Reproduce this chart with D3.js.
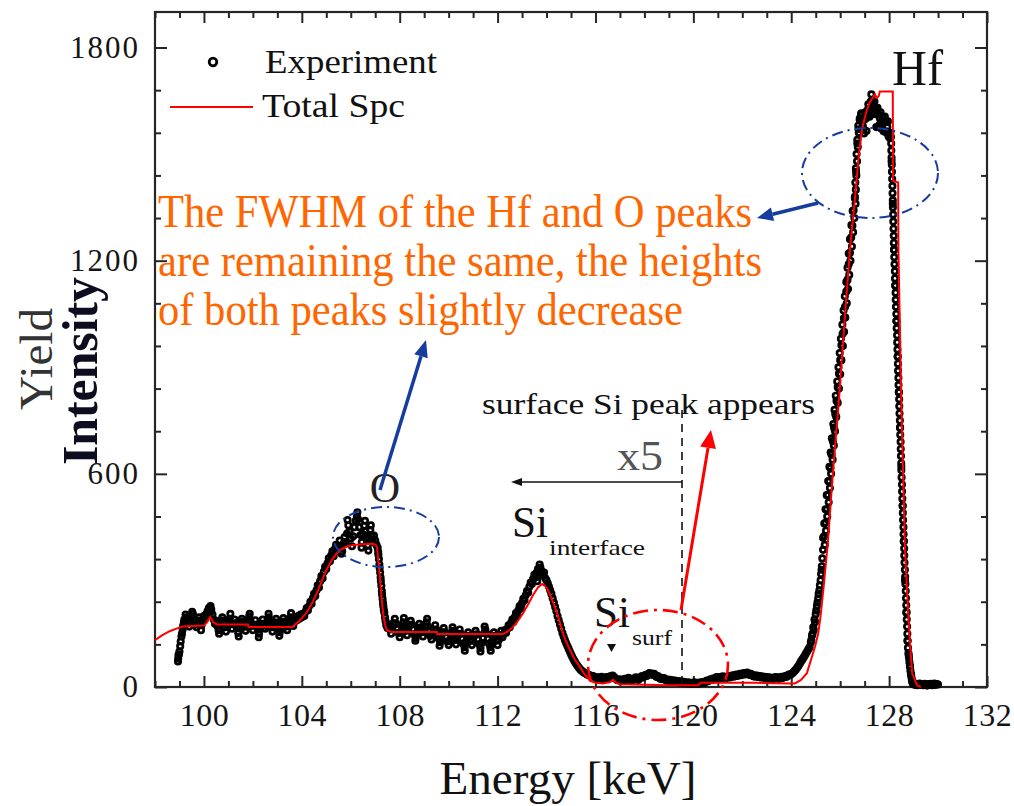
<!DOCTYPE html>
<html><head><meta charset="utf-8">
<script src="https://cdn.jsdelivr.net/npm/d3@7"></script>
<style>
body{margin:0;background:#fff}svg{display:block}
svg text{font-family:'Liberation Serif','Times New Roman',Tinos,Times,'Nimbus Roman',serif;}
</style>
</head><body>
<svg id="chart" width="1014" height="806"></svg>
<script>
// ---------- data ----------
const xDomain = [98, 132];
const yDomain = [0, 1900];
const xMajorTicks = [100, 104, 108, 112, 116, 120, 124, 128, 132];
const xMinorTicks = [98, 99, 101, 102, 103, 105, 106, 107, 109, 110, 111, 113, 114, 115, 117, 118, 119, 121, 122, 123, 125, 126, 127, 129, 130, 131];
const yMajorTicks = [0, 600, 1200, 1800];
const yMinorTicks = [120, 240, 360, 480, 720, 840, 960, 1080, 1320, 1440, 1560, 1680];

// Experiment: channel grid (keV) + counts
const expChannelStart = 98.95;
const expChannelWidth = 0.05;
const expCounts = [80,
 100,128,150,172,190,204,196,182,170,184,198,205,190,176,168,182,196,188,174,186,
 200,192,205,214,222,210,218,204,190,178,186,172,160,174,188,196,182,168,156,170,
 184,192,178,164,176,190,180,166,152,166,178,192,184,170,158,170,186,198,186,172,
 160,174,188,176,162,150,164,178,190,178,164,172,186,196,182,168,156,168,182,192,
 180,166,154,166,180,194,184,170,160,172,186,196,184,172,184,196,188,200,192,204,
 196,206,200,212,222,216,228,240,234,250,262,256,272,286,280,298,312,306,324,338,
 332,348,362,354,370,382,368,388,400,384,396,412,396,382,404,422,408,432,455,438,
 418,396,424,450,468,480,472,450,428,408,430,454,438,416,398,418,442,428,408,426,
 412,400,392,360,322,285,248,218,196,174,166,176,162,150,164,180,192,178,164,152,
 140,154,168,182,172,158,146,160,174,186,176,162,148,138,152,166,178,168,154,142,
 156,170,182,170,156,144,134,148,162,174,162,148,136,126,140,154,166,154,140,128,
 118,132,146,158,146,132,120,134,150,162,150,136,122,112,126,140,154,144,130,118,
 130,144,158,148,134,120,110,124,138,152,162,150,136,122,112,126,140,154,144,130,
 118,132,146,158,140,150,160,152,164,174,168,180,190,184,196,208,202,216,228,222,
 236,248,244,258,270,266,282,294,290,304,316,308,322,332,320,336,326,314,322,306,
 300,292,282,272,262,250,238,226,214,200,188,176,164,152,142,132,124,116,108,100,
 92,85,78,72,66,61,56,52,48,45,42,40,38,36,34,33,32,30,31,29,
 28,24,27,22,25,29,24,21,25,28,23,26,30,27,32,29,25,22,19,22,
 18,21,17,20,23,19,22,26,22,19,23,20,24,27,23,20,24,28,31,27,
 30,34,31,36,39,35,38,34,37,32,28,31,26,23,26,22,25,21,18,21,
 17,20,16,19,15,18,14,17,13,16,12,15,11,14,12,10,13,11,9,12,
 10,13,11,9,12,10,13,11,14,12,15,18,16,19,22,20,24,21,25,28,
 25,28,24,27,30,26,29,25,28,31,27,30,33,29,32,35,31,34,37,33,
 36,39,35,38,41,37,34,37,33,30,33,29,32,28,31,27,30,26,29,25,
 28,24,27,23,26,22,25,28,24,27,23,26,29,25,28,31,28,32,35,33,
 37,39,42,46,50,55,60,66,72,77,82,88,94,100,106,112,125,145,168,190,
 205,228,250,272,300,340,386,425,462,500,540,578,616,654,692,730,768,806,844,882,
 920,962,994,1038,1070,1113,1146,1190,1222,1265,1298,1342,1376,1450,1530,1570,1595,1610,1600,1570,
 1598,1600,1605,1640,1605,1648,1650,1614,1648,1612,1612,1614,1582,1618,1586,1590,1590,1590,1560,1592,
 1560,1560,1480,1360,1231,1130,1030,930,830,730,620,510,410,300,210,130,90,60,36,16,
 8,6,9,5,7,10,6,8,5,9,7,4,8,6,9,5,7,10,6,8,
 7];

// Experiment: extra points read on the steep edges and noisy stretches (keV, counts)
const expEdgePoints = [
 [98.94,72],[98.96,90],[98.98,92],[99.03,115],[99.08,142],[99.13,162],[99.18,182],
 [99.52,212],[99.88,160],[100.27,228],[100.62,150],[101.08,206],[101.42,142],[101.87,206],[102.24,140],[102.64,206],[103.08,144],[103.56,208],
 [105.87,470],[105.62,375],[106.27,492],[106.44,392],[106.58,468],[106.72,384],[106.82,455],
 [107.12,380],[107.13,372],[107.17,345],[107.18,335],[107.22,308],[107.23,298],[107.27,270],[107.28,260],[107.32,236],[107.33,228],[107.37,210],[107.42,186],
 [108.17,194],[108.64,130],[109.12,192],[109.63,116],[110.16,168],[110.66,102],[111.47,170],[111.3,100],[111.72,102],[113.72,345],[113.62,298],
 [124.82,132],[124.87,150],[124.92,160],[124.97,182],[125.02,215],[125.07,238],[125.12,262],[125.17,286],[125.22,318],[125.24,330],[125.27,362],
 [125.37,400],[125.30,420],[125.42,440],[125.35,460],[125.47,480],[125.40,500],[125.53,520],[125.45,540],[125.58,560],[125.51,580],
 [125.63,600],[125.56,620],[125.69,640],[125.61,660],[125.74,680],[125.66,700],[125.79,720],[125.72,740],[125.84,760],[125.77,780],
 [125.90,800],[125.82,820],[125.95,840],[125.88,860],[126.00,880],[125.93,900],[126.05,920],[125.98,940],[126.11,960],[126.03,980],
 [126.16,1000],[126.09,1020],[126.21,1040],[126.14,1060],[126.27,1080],[126.19,1100],[126.32,1120],[126.25,1140],[126.37,1160],[126.30,1180],
 [126.42,1200],[126.35,1220],[126.48,1240],[126.40,1260],[126.53,1280],[126.46,1300],[126.58,1320],[126.51,1340],[126.63,1360],
 [126.60,1380],[126.64,1400],[126.62,1420],[126.66,1440],[126.64,1460],[126.69,1480],[126.67,1500],[126.72,1520],[126.70,1540],[126.76,1560],[126.74,1580],[126.80,1600],[126.86,1615],
 [126.925,1580],[126.975,1558],[127.025,1618],[127.075,1565],[127.125,1625],[127.175,1622],[127.225,1625],[127.275,1668],[127.325,1632],[127.375,1630],
 [127.425,1630],[127.475,1576],[127.525,1630],[127.575,1578],[127.625,1600],[127.675,1572],[127.725,1604],[127.775,1564],[127.825,1606],[127.875,1564],
 [127.925,1576],[127.975,1550],[128.025,1545],[128.075,1548],
 [128.085,1530],[128.09,1510],[128.10,1490],[128.11,1470],[128.115,1450],[128.125,1430],[128.135,1410],[128.14,1390],[128.15,1370],[128.155,1350],
 [128.165,1330],[128.17,1310],[128.18,1290],[128.19,1270],[128.195,1250],[128.205,1230],[128.21,1210],[128.22,1190],[128.235,1170],[128.24,1150],
 [128.25,1130],[128.265,1110],[128.27,1090],[128.28,1070],[128.295,1050],[128.30,1030],[128.31,1010],[128.325,990],[128.33,970],[128.34,950],
 [128.35,930],[128.36,910],[128.365,890],[128.38,870],[128.385,850],[128.395,830],[128.41,810],[128.415,790],[128.425,770],[128.44,750],
 [128.445,730],[128.455,710],[128.47,690],[128.475,670],[128.485,650],[128.495,630],[128.50,610],[128.51,590],[128.525,570],[128.53,550],
 [128.54,530],[128.555,510],[128.56,490],[128.57,470],[128.585,450],[128.59,430],[128.60,410],[128.615,390],[128.62,370],[128.63,350],
 [128.645,330],[128.655,310],[128.665,290],[128.68,270],[128.69,250],[128.70,230],[128.715,210],[128.72,190],[128.735,170],[128.745,150],
 [128.755,130],[128.77,110],[128.79,95],[128.81,82],[128.83,70],[128.85,58],[128.87,46],[128.89,36],[128.91,28],[128.93,20],[128.95,14],[128.97,10]
];

// Total simulated spectrum (keV, counts)
const totalSpc = [
 [98.0,132],[98.3,146],[98.6,157],[98.9,165],[99.14,170],[99.5,172],[100.0,173],[100.12,182],[100.25,197],[100.38,182],[100.53,176],
 [101.8,176],[101.82,169],[103.6,169],[103.9,186],[104.21,211],[104.42,236],[104.62,265],[104.8,295],[104.95,321],[105.1,342],
 [105.23,358],[105.4,374],[105.56,386],[105.8,394],[106.09,400],[106.5,402],[106.91,403],[107.02,400],[107.07,394],[107.14,345],
 [107.2,301],[107.26,250],[107.32,208],[107.4,175],[107.48,160],[107.6,156],[107.73,155],[109.52,155],[109.54,149],[112.22,149],
 [112.4,156],[112.63,169],[112.85,188],[113.04,208],[113.25,233],[113.45,259],[113.65,280],[113.82,290],[113.95,284],[114.06,273],
 [114.25,242],[114.43,208],[114.55,180],[114.67,152],[114.8,128],[114.96,104],[115.15,78],[115.37,56],[115.55,36],[115.78,17],
 [116.0,12],[116.3,10],[116.6,14],[116.72,20],[116.85,12],[117.0,8],[118.0,6],[119.0,5],[120.2,5],[120.3,12],[122.5,12],
 [124.0,10],[124.15,10],[124.4,20],[124.64,39],[124.8,75],[124.97,113],[125.1,150],[125.2,200],[125.35,300],[125.5,410],
 [125.7,600],[125.95,808],[126.2,1050],[126.4,1231],[126.6,1372],[126.75,1490],[126.89,1569],[127.05,1615],[127.2,1645],
 [127.42,1668],[127.5,1658],[127.58,1664],[127.62,1676],[128.15,1676],[128.16,1425],[128.37,1420],[128.38,1231],[128.5,800],
 [128.65,386],[128.8,180],[128.94,39],[129.14,5],[129.3,0]
];

const legendLabels = ["Experiment", "Total Spc"];
const noteLines = ["The FWHM of the Hf and O peaks", "are remaining the same, the heights", "of both peaks slightly decrease"];

// ---------- drawing ----------
const W = 1014, H = 806;
const M = {left: 155, right: 987, top: 12, bottom: 687};
const serif = "'Liberation Serif','Times New Roman',Tinos,Times,serif";
const svg = d3.select('#chart');
svg.append('rect').attr('width', W).attr('height', H).attr('fill', '#fff');

const x = d3.scaleLinear().domain(xDomain).range([M.left, M.right]);
const y = d3.scaleLinear().domain(yDomain).range([M.bottom, M.top]);
const axisColor = '#262626';

function styleAxis(g, fs, ls) {
  g.select('.domain').remove();
  g.attr('color', axisColor).attr('font-family', null).attr('font-size', fs);
  g.selectAll('line').attr('stroke-width', 2);
  g.selectAll('text').attr('fill', '#151515').style('font-family', serif).style('letter-spacing', ls + 'px');
}
// bottom
svg.append('g').attr('transform', `translate(0,${M.bottom})`)
  .call(d3.axisBottom(x).tickValues(xMajorTicks).tickSize(-11).tickPadding(16).tickFormat(d3.format('d')))
  .call(g => styleAxis(g, 32, 0.5));
svg.append('g').attr('transform', `translate(0,${M.bottom})`)
  .call(d3.axisBottom(x).tickValues(xMinorTicks).tickSize(-6).tickFormat(''))
  .call(g => styleAxis(g, 10, 0));
// top
svg.append('g').attr('transform', `translate(0,${M.top})`)
  .call(d3.axisTop(x).tickValues(xMajorTicks).tickSize(-11).tickFormat(''))
  .call(g => styleAxis(g, 10, 0));
svg.append('g').attr('transform', `translate(0,${M.top})`)
  .call(d3.axisTop(x).tickValues(xMinorTicks).tickSize(-6).tickFormat(''))
  .call(g => styleAxis(g, 10, 0));
// left
svg.append('g').attr('transform', `translate(${M.left},0)`)
  .call(d3.axisLeft(y).tickValues(yMajorTicks).tickSize(-12).tickPadding(15).tickFormat(d3.format('d')))
  .call(g => styleAxis(g, 31, 2));
svg.append('g').attr('transform', `translate(${M.left},0)`)
  .call(d3.axisLeft(y).tickValues(yMinorTicks).tickSize(-6).tickFormat(''))
  .call(g => styleAxis(g, 10, 0));
// right
svg.append('g').attr('transform', `translate(${M.right},0)`)
  .call(d3.axisRight(y).tickValues(yMajorTicks).tickSize(-12).tickFormat(''))
  .call(g => styleAxis(g, 10, 0));
svg.append('g').attr('transform', `translate(${M.right},0)`)
  .call(d3.axisRight(y).tickValues(yMinorTicks).tickSize(-6).tickFormat(''))
  .call(g => styleAxis(g, 10, 0));
// frame
svg.append('rect').attr('x', M.left).attr('y', M.top)
  .attr('width', M.right - M.left).attr('height', M.bottom - M.top)
  .attr('fill', 'none').attr('stroke', axisColor).attr('stroke-width', 2.2);

// experiment markers
const expPoints = expCounts.map((c, i) => [expChannelStart + i * expChannelWidth, c]).concat(expEdgePoints);
svg.append('g').selectAll('circle').data(expPoints).join('circle')
  .attr('cx', d => x(d[0])).attr('cy', d => y(d[1])).attr('r', 2.7)
  .attr('fill', 'none').attr('stroke', '#000').attr('stroke-width', 2.7);

// total spectrum
svg.append('path').datum(totalSpc)
  .attr('d', d3.line().x(d => x(d[0])).y(d => y(d[1])))
  .attr('fill', 'none').attr('stroke', '#ff0000').attr('stroke-width', 2);

// text helper
function label(tx, ty, t, fs, opts = {}) {
  const el = svg.append('text').attr('x', tx).attr('y', ty).text(t)
    .style('font-family', serif).attr('font-size', fs).attr('fill', opts.fill || '#111');
  if (opts.len) el.attr('textLength', opts.len).attr('lengthAdjust', 'spacingAndGlyphs');
  if (opts.anchor) el.attr('text-anchor', opts.anchor);
  if (opts.weight) el.attr('font-weight', opts.weight);
  if (opts.transform) el.attr('transform', opts.transform).attr('x', 0).attr('y', 0);
  return el;
}

// legend
svg.append('circle').attr('cx', 213).attr('cy', 62).attr('r', 3.8)
  .attr('fill', '#fff').attr('stroke', '#000').attr('stroke-width', 2.8);
svg.append('line').attr('x1', 170).attr('x2', 253).attr('y1', 107).attr('y2', 107)
  .attr('stroke', '#ff0000').attr('stroke-width', 2);
const leg = [[265, 73, 172], [262, 117, 143]];
legendLabels.forEach((t, i) => label(leg[i][0], leg[i][1], t, 34, {len: leg[i][2]}));

// axis titles
label(568, 794, 'Energy [keV]', 46, {anchor: 'middle', len: 257});
label(0, 0, 'Yield', 46, {anchor: 'middle', fill: '#333', len: 102, transform: 'translate(52,359) rotate(-90)'});
label(0, 0, 'Intensity', 50, {anchor: 'middle', fill: '#0d0d1f', len: 188, weight: 'bold', transform: 'translate(97,371) rotate(-90)'});

// orange note
const noteLen = [594, 604, 525];
noteLines.forEach((t, i) => label(158, 227 + i * 49, t, 46, {fill: '#ff6600', len: noteLen[i]}));

// peak labels
label(892, 85, 'Hf', 50, {len: 51});
label(385, 502, 'O', 42, {anchor: 'middle', fill: '#222'});
label(512, 537, 'Si', 44, {len: 36});
label(549, 555, 'interface', 22, {len: 96});
label(594, 627, 'Si', 44, {len: 36});
label(632, 645, 'surf', 22, {len: 40});
label(617, 470, 'x5', 42, {len: 46, fill: '#555'});
label(482, 414, 'surface Si peak appears', 30, {len: 333});

// small marker under Si surf
svg.append('path').attr('d', 'M607,644 L616,644 L611.5,652 Z').attr('fill', '#111');

// dashed x5 boundary and arrow
svg.append('line').attr('x1', 682).attr('x2', 682).attr('y1', 410).attr('y2', M.bottom)
  .attr('stroke', '#111').attr('stroke-width', 1.6).attr('stroke-dasharray', '8,6');
svg.append('line').attr('x1', 682).attr('x2', 518).attr('y1', 482).attr('y2', 482)
  .attr('stroke', '#111').attr('stroke-width', 1.6);
svg.append('path').attr('d', 'M511,482 L522,478 L522,486 Z').attr('fill', '#111');

// arrows
function arrow(x1, y1, x2, y2, color, w, hl, hw) {
  const a = Math.atan2(y2 - y1, x2 - x1);
  const bx = x2 - hl * Math.cos(a), by = y2 - hl * Math.sin(a);
  svg.append('line').attr('x1', x1).attr('y1', y1).attr('x2', bx).attr('y2', by)
    .attr('stroke', color).attr('stroke-width', w);
  const px = -Math.sin(a) * hw, py = Math.cos(a) * hw;
  svg.append('path').attr('d', `M${x2},${y2} L${bx + px},${by + py} L${bx - px},${by - py} Z`).attr('fill', color);
}
arrow(818, 203, 757, 218, '#163c9e', 3.5, 16, 7);
arrow(380, 490, 426, 340, '#163c9e', 3.5, 17, 7);
arrow(681, 610, 711, 430, '#ff0000', 3, 18, 8);

// ellipses
function ellipse(cx, cy, rx, ry, color, w, dash) {
  svg.append('ellipse').attr('cx', cx).attr('cy', cy).attr('rx', rx).attr('ry', ry)
    .attr('fill', 'none').attr('stroke', color).attr('stroke-width', w).attr('stroke-dasharray', dash);
}
ellipse(870, 173, 68, 45, '#163c9e', 2, '11,5,2,5');
ellipse(386, 537, 53, 30, '#163c9e', 2, '11,5,2,5');
ellipse(658, 665, 70, 55, '#ff0000', 2.6, '15,6,3,6');
</script>
</body></html>
